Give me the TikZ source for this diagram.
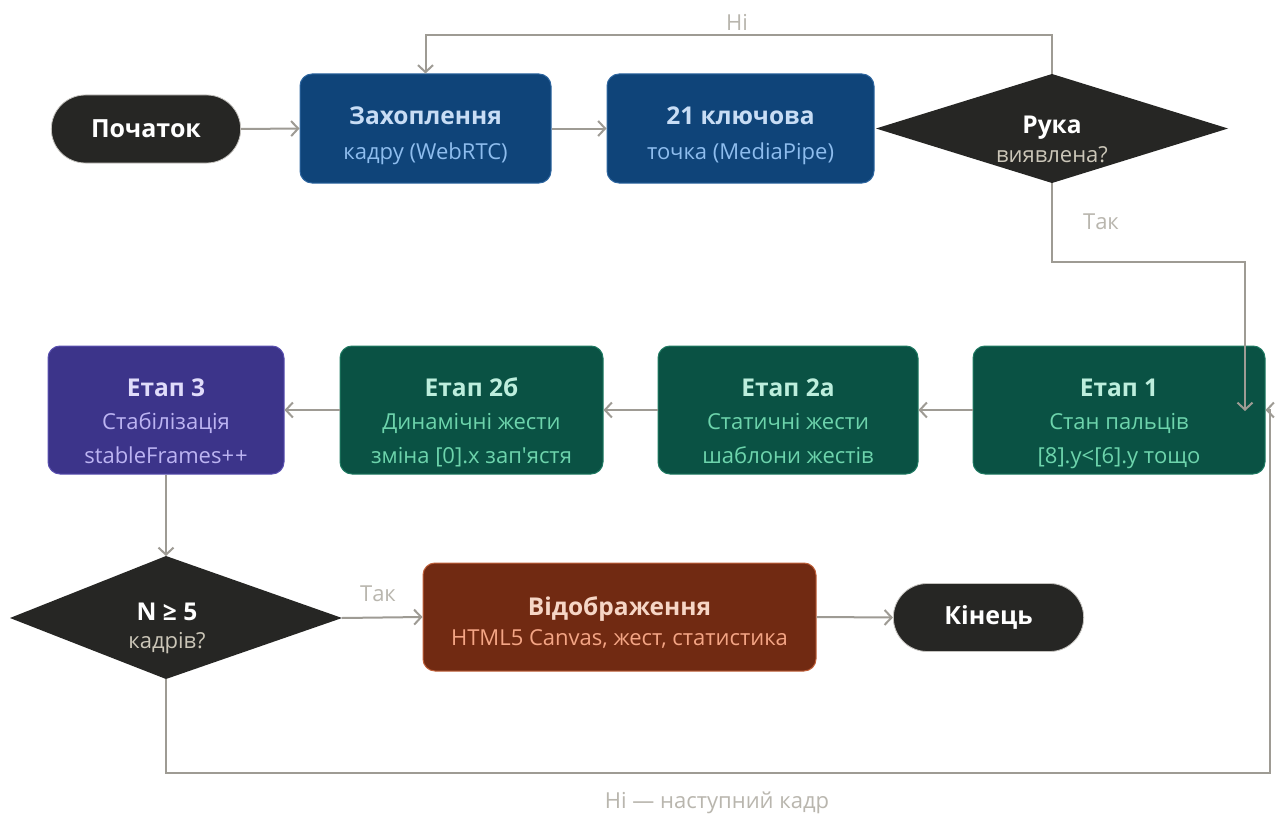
\documentclass[tikz,border=0pt]{standalone}
\usepackage{fontspec}
\setmainfont{Open Sans}
\usetikzlibrary{arrows.meta,shapes.geometric,shapes.misc}
\definecolor{darkfill}{HTML}{262624}
\definecolor{bluefill}{HTML}{0F4479}
\definecolor{blueline}{HTML}{2E66A0}
\definecolor{bluetitle}{HTML}{C8DDF5}
\definecolor{bluesub}{HTML}{8EBDEE}
\definecolor{greenfill}{HTML}{0A5244}
\definecolor{greenline}{HTML}{1F7A62}
\definecolor{greentitle}{HTML}{BDEEDD}
\definecolor{greensub}{HTML}{6DD4AC}
\definecolor{purplefill}{HTML}{3C348A}
\definecolor{purpleline}{HTML}{5A50B0}
\definecolor{purpletitle}{HTML}{E0DCFA}
\definecolor{purplesub}{HTML}{BCB4F2}
\definecolor{brownfill}{HTML}{712A12}
\definecolor{brownline}{HTML}{C0603A}
\definecolor{browntitle}{HTML}{F6D6C6}
\definecolor{brownsub}{HTML}{F4A585}
\definecolor{diasub}{HTML}{CBC6B8}
\definecolor{arrowgrey}{HTML}{9E9B94}
\definecolor{labelgrey}{HTML}{B9B6AE}
% title line with top strut of height #1
\newcommand{\bxtitle}[3]{\rule{0pt}{#1}{\fontsize{24.5}{30}\selectfont\bfseries\color{#2}#3}}
\newcommand{\bxsub}[2]{{\fontsize{22}{30}\selectfont\color{#1}#2}}
\newcommand{\lastdepth}{\rule[-6pt]{0pt}{6pt}}
\begin{document}
\begin{tikzpicture}[x=1pt,y=-1pt,
  procbox/.style={rounded corners=12pt, line width=1pt, align=center, inner sep=0pt, minimum height=109pt},
  bluebox/.style={procbox, fill=bluefill, draw=blueline, font=\fontsize{22}{35}\selectfont},
  greenbox/.style={procbox, fill=greenfill, draw=greenline, minimum height=128pt, font=\fontsize{22}{33.5}\selectfont},
  purplebox/.style={procbox, fill=purplefill, draw=purpleline, minimum height=128pt, font=\fontsize{22}{33.5}\selectfont},
  brownbox/.style={procbox, fill=brownfill, draw=brownline, minimum height=108pt, font=\fontsize{22}{30}\selectfont},
  term/.style={rounded rectangle, fill=darkfill, draw=arrowgrey!60, line width=0.8pt, minimum height=68pt, text=white, font=\fontsize{25}{30}\selectfont\bfseries},
  diatext/.style={align=center, inner sep=0pt},
  arr/.style={draw=arrowgrey, line width=2pt, -{Straight Barb[length=7pt,width=15pt]}},
  lbl/.style={text=labelgrey, font=\fontsize{22}{26}\selectfont, inner sep=2pt}
]
\useasboundingbox (0,0) rectangle (1278,816);
\fill[white] (0,0) rectangle (1278,816);

% top row
\node[term, minimum width=196pt] (start) at (146,129) {Початок};
\node[bluebox, minimum width=251pt] (cap) at (425.5,128.5)
  {\bxtitle{32pt}{bluetitle}{Захоплення}\\\bxsub{bluesub}{кадру (WebRTC)}\lastdepth};
\node[bluebox, minimum width=267pt] (kp) at (740.5,128.5)
  {\bxtitle{32pt}{bluetitle}{21 ключова}\\\bxsub{bluesub}{точка (MediaPipe)}\lastdepth};
\fill[darkfill] (876,128.5) -- (1052,74) -- (1228,128.5) -- (1052,183) -- cycle;
\coordinate (rukat) at (1052,74);
\coordinate (rukab) at (1052,183);
\node[diatext, font=\fontsize{22}{29}\selectfont] (ruka) at (1052,128.5)
  {\bxtitle{44pt}{white}{Рука}\\\bxsub{diasub}{виявлена?}\lastdepth};

% middle row
\node[greenbox, minimum width=292pt] (e1) at (1119,410)
  {\bxtitle{45pt}{greentitle}{Етап 1}\\\bxsub{greensub}{Стан пальців}\\\bxsub{greensub}{[8].y<[6].y тощо}\lastdepth};
\node[greenbox, minimum width=260pt] (e2a) at (788,410)
  {\bxtitle{45pt}{greentitle}{Етап 2а}\\\bxsub{greensub}{Статичні жести}\\\bxsub{greensub}{шаблони жестів}\lastdepth};
\node[greenbox, minimum width=263pt] (e2b) at (471.5,410)
  {\bxtitle{45pt}{greentitle}{Етап 2б}\\\bxsub{greensub}{Динамічні жести}\\\bxsub{greensub}{зміна [0].x зап\textquotesingle ястя}\lastdepth};
\node[purplebox, minimum width=236pt] (e3) at (166,410)
  {\bxtitle{45pt}{purpletitle}{Етап 3}\\\bxsub{purplesub}{Стабілізація}\\\bxsub{purplesub}{stableFrames+\kern1pt+}\lastdepth};

% bottom row
\fill[darkfill] (10,618) -- (166,556) -- (342,618) -- (166,679) -- cycle;
\coordinate (n5t) at (166,556);
\coordinate (n5r) at (342,618);
\coordinate (n5b) at (166,679);
\node[diatext, font=\fontsize{22}{28}\selectfont] (n5) at (167,618)
  {\bxtitle{38pt}{white}{N ≥ 5}\\\bxsub{diasub}{кадрів?}\lastdepth};
\node[brownbox, minimum width=393pt] (disp) at (619.5,617)
  {\bxtitle{32pt}{browntitle}{Відображення}\\\bxsub{brownsub}{HTML5 Canvas, жест, статистика}\lastdepth};
\node[term, minimum width=197pt] (fin) at (988.5,617.5) {Кінець};

% connectors
\draw[arr] (start.east) -- (cap.west);
\draw[arr] (cap.east) -- (kp.west);
\draw[arr] (rukat) -- (1052,35) -| (cap.north);
\node[fill=white, inner xsep=8pt, inner ysep=2pt, text=labelgrey, font=\fontsize{22}{26}\selectfont] (nolbl) at (737,22) {Ні};
\coordinate (e1in) at (1245,411);
\draw[arr] (rukab) -- (1052,262) -| (e1in);
\node[lbl] (yes1) at (1101,222) {Так};
\draw[arr] (e1.west) -- (e2a.east);
\draw[arr] (e2a.west) -- (e2b.east);
\draw[arr] (e2b.west) -- (e3.east);
\draw[arr] (e3.south) -- (n5t);
\draw[arr] (n5r) -- (disp.west);
\node[lbl] (yes2) at (378,594) {Так};
\draw[arr] (disp.east) -- (fin.west);
\draw[arr] (n5b) -- (166,773) -- (1270,773) -- (1270,410) -- (e1.east);
\node[lbl] (nextlbl) at (717,803) {Ні — наступний кадр};
\end{tikzpicture}
\end{document}
